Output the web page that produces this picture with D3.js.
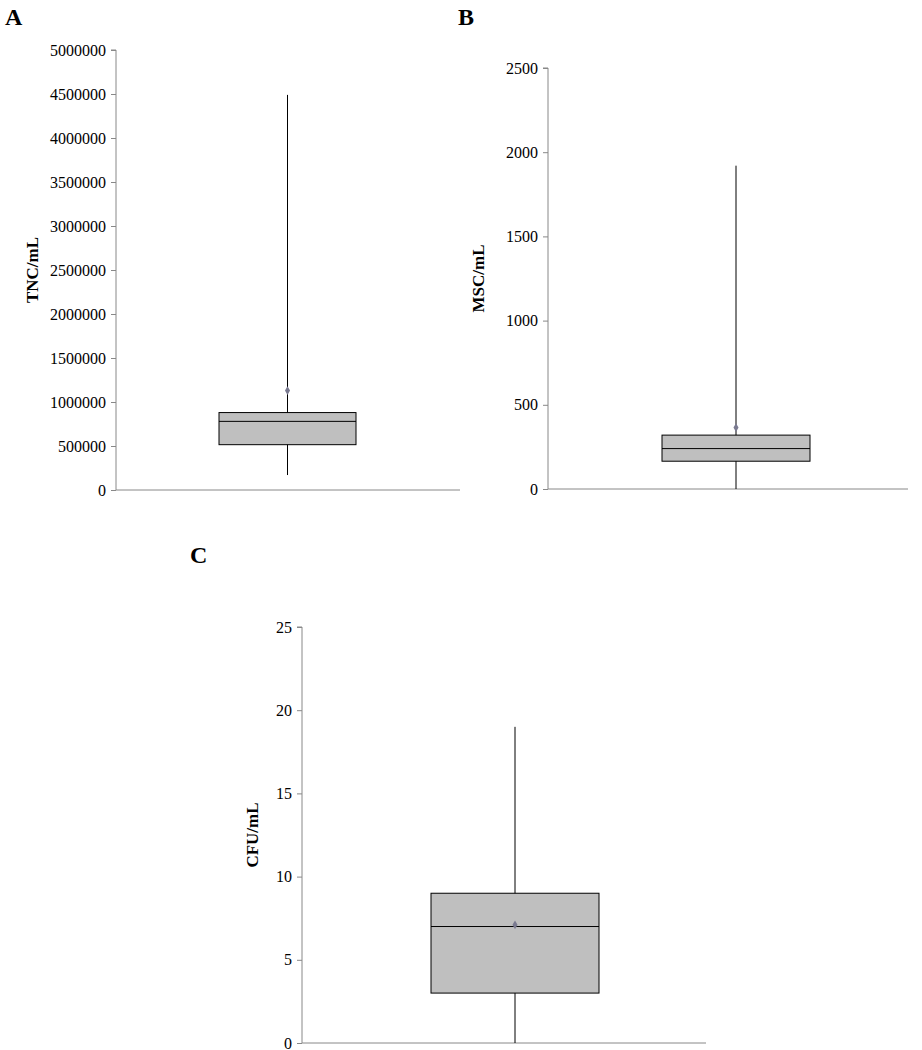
<!DOCTYPE html>
<html><head><meta charset="utf-8">
<script src="https://cdn.jsdelivr.net/npm/d3@7"></script>
<style>body{margin:0;background:#fff}text{font-family:"Liberation Serif","Times New Roman",serif}</style>
</head><body><svg id="c" width="922" height="1050"></svg>
<script>
const panels = ["A","B","C"];
const yLabels = ["TNC/mL","MSC/mL","CFU/mL"];
const yMax = [5000000, 2500, 25];
const tickStep = [500000, 500, 5];
const mins = [170000, 0, 0];
const q1s = [515000, 165, 3];
const medians = [780000, 240, 7];
const q3s = [880000, 320, 9];
const maxs = [4490000, 1920, 19];
const means = [1130000, 365, 7.1];

const layout = [
  {ax:116, x1:460, top:50, bot:490, bx0:219, bx1:356, letterX:5, letterY:25, labX:38},
  {ax:548, x1:908, top:68, bot:489, bx0:662, bx1:810, letterX:458, letterY:25, labX:484},
  {ax:302, x1:706, top:627, bot:1043, bx0:431, bx1:599, letterX:190, letterY:563, labX:258}
];
const svg = d3.select("#c");
panels.forEach((p,i)=>{
  const L = layout[i];
  const g = svg.append("g");
  const y = d3.scaleLinear().domain([0,yMax[i]]).range([L.bot,L.top]);
  const ticks = d3.range(0, yMax[i]+tickStep[i]/2, tickStep[i]);
  const axis = d3.axisLeft(y).tickValues(ticks).tickSize(5).tickFormat(d3.format("d"));
  const ag = g.append("g").attr("transform",`translate(${L.ax},0)`).call(axis);
  ag.select(".domain").attr("stroke","#888").attr("d",`M-5,${L.top}H0V${L.bot}`);
  ag.selectAll(".tick line").attr("stroke","#888");
  ag.selectAll(".tick text").attr("font-size",16).attr("fill","#000").attr("font-family","Liberation Serif").attr("x",-10);
  g.append("line").attr("x1",L.ax).attr("x2",L.x1).attr("y1",L.bot).attr("y2",L.bot).attr("stroke","#888");
  const cx = (L.bx0+L.bx1)/2;
  g.append("line").attr("x1",cx).attr("x2",cx).attr("y1",y(mins[i])).attr("y2",y(maxs[i])).attr("stroke","#000");
  g.append("rect").attr("x",L.bx0).attr("width",L.bx1-L.bx0).attr("y",y(q3s[i])).attr("height",y(q1s[i])-y(q3s[i]))
    .attr("fill","#bfbfbf").attr("stroke","#000");
  g.append("line").attr("x1",L.bx0).attr("x2",L.bx1).attr("y1",y(medians[i])).attr("y2",y(medians[i])).attr("stroke","#000");
  g.append("path").attr("d",d3.symbol(d3.symbolDiamond,22)()).attr("transform",`translate(${cx},${y(means[i])})`).attr("fill","#7a7a90");
  g.append("text").attr("x",L.letterX).attr("y",L.letterY).attr("font-size",24).attr("font-weight","bold").text(p);
  g.append("text").attr("transform",`translate(${L.labX},${(L.top+L.bot)/2}) rotate(-90)`).attr("text-anchor","middle")
    .attr("font-size",17).attr("font-weight","bold").text(yLabels[i]);
});
</script></body></html>
